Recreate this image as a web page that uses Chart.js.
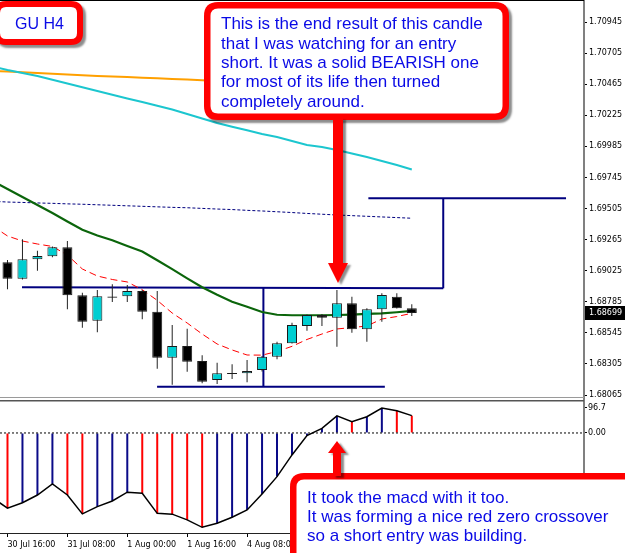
<!DOCTYPE html>
<html><head><meta charset="utf-8">
<script src="https://cdn.jsdelivr.net/npm/chart.js@4.4.1/dist/chart.umd.min.js"></script>
<style>html,body{margin:0;padding:0;background:#fff;overflow:hidden}canvas{display:block}</style>
</head><body>
<canvas id="c" width="625" height="553"></canvas>
<script>
// ---- candles (GBPUSD H4), bar index 0..27 ----
const barIndex = [0,1,2,3,4,5,6,7,8,9,10,11,12,13,14,15,16,17,18,19,20,21,22,23,24,25,26,27];
const opens  = [1.69090,1.68963,1.69113,1.69136,1.69206,1.68835,1.68639,1.68825,1.68827,1.68868,1.68708,1.68353,1.68444,1.68328,1.68181,1.68235,1.68233,1.68258,1.68361,1.68464,1.68598,1.68683,1.68662,1.68773,1.68572,1.68727,1.68824,1.68735];
const highs  = [1.69108,1.69267,1.69179,1.69212,1.69254,1.68855,1.68876,1.68920,1.68915,1.68876,1.68868,1.68606,1.68577,1.68372,1.68315,1.68302,1.68335,1.68366,1.68477,1.68623,1.68687,1.68691,1.68876,1.68824,1.68735,1.68850,1.68850,1.68766];
const lows   = [1.68881,1.68957,1.69025,1.69128,1.68727,1.68585,1.68549,1.68783,1.68783,1.68650,1.68268,1.68145,1.68245,1.68156,1.68150,1.68189,1.68163,1.68247,1.68341,1.68463,1.68562,1.68598,1.68438,1.68546,1.68477,1.68631,1.68733,1.68675];
const closes = [1.68963,1.69113,1.69138,1.69206,1.68835,1.68631,1.68827,1.68816,1.68868,1.68708,1.68353,1.68444,1.68322,1.68168,1.68233,1.68227,1.68251,1.68361,1.68464,1.68606,1.68683,1.68662,1.68773,1.68572,1.68727,1.68837,1.68735,1.68699];

// ---- indicator lines, index -1..27 ----
const lineIndex = [-1,0,1,2,3,4,5,6,7,8,9,10,11,12,13,14,15,16,17,18,19,20,21,22,23,24,25,26,27];
const maOrange = [1.70568,1.70563,1.70557,1.70551,1.70545,1.70539,1.70534,1.70529,1.70524,1.70520,1.70515,1.70510,1.70506,1.70501,1.70496,1.70490,1.70485,1.70480,1.70474,1.70469,1.70463,1.70458,1.70453,1.70447,1.70442,1.70436,1.70431,1.70426,1.70420];
const maCyan   = [1.70602,1.70575,1.70551,1.70528,1.70499,1.70470,1.70441,1.70412,1.70383,1.70355,1.70327,1.70298,1.70270,1.70235,1.70200,1.70165,1.70136,1.70109,1.70080,1.70057,1.70026,1.69995,1.69980,1.69957,1.69930,1.69903,1.69872,1.69841,1.69806];
const maDotted = [1.69561,1.69555,1.69552,1.69548,1.69545,1.69541,1.69538,1.69534,1.69530,1.69526,1.69522,1.69518,1.69514,1.69511,1.69506,1.69501,1.69497,1.69491,1.69486,1.69480,1.69474,1.69467,1.69461,1.69455,1.69450,1.69445,1.69440,1.69435,1.69430];
const maGreen  = [1.69718,1.69656,1.69594,1.69532,1.69470,1.69405,1.69341,1.69297,1.69260,1.69216,1.69173,1.69106,1.69037,1.68966,1.68897,1.68839,1.68785,1.68746,1.68706,1.68685,1.68681,1.68681,1.68681,1.68683,1.68686,1.68691,1.68695,1.68704,1.68714];
const maRed    = [1.69370,1.69293,1.69254,1.69231,1.69212,1.69146,1.69038,1.68984,1.68957,1.68938,1.68878,1.68796,1.68698,1.68621,1.68536,1.68459,1.68413,1.68374,1.68373,1.68401,1.68441,1.68494,1.68536,1.68575,1.68586,1.68598,1.68652,1.68671,1.68696];

// ---- MACD histogram, index -1..27 ----
const macdValues = [-251,-291,-270,-240,-197,-240,-313,-285,-263,-229,-233,-311,-314,-336,-365,-349,-326,-298,-236,-169,-85,-10,18,66,44,63,96.7,86,67];

// ---- drawn range objects ----
const rangeHighIdx = [0.97, 29.1];
const rangeHighPrice = [1.68897, 1.68889];
const rangeLowIdx = [9.99, 25.2];
const rangeLowPrice = 1.68129;
const rangeSplitIdx = 17.09;
const targetIdx = [24.1, 37.3];
const targetPrice = 1.69584;

// ---- axis ticks ----
const xTickIndex = [0,4,8,12,16,20,24];
const xTickLabels = ['30 Jul 16:00','31 Jul 08:00','1 Aug 00:00','1 Aug 16:00','4 Aug 08:00','5 Aug 00:00','5 Aug 16:00'];
const priceTicks = [1.70945,1.70705,1.70465,1.70225,1.69985,1.69745,1.69505,1.69265,1.69025,1.68785,1.68545,1.68305,1.68065];
const macdTicks = [96.7, 0];
const macdTickLabels = ['96.7','0.00'];

// ---- annotation texts ----
const titleText = 'GU H4';
const note1 = ['This is the end result of this candle','that I was watching for an entry','short. It was a solid BEARISH one','for most of its life then turned','completely around.'];
const note2 = ['It took the macd with it too.','It was forming a nice red zero crossover','so a short entry was building.'];

const CYAN = '#00CED1', NAVY = '#00007f', RED = '#ff0000';
const axisFont = {family:'"DejaVu Sans", Verdana, sans-serif', size:8};

const bodyColors = closes.map((c,i)=> c >= opens[i] ? CYAN : '#000000');
const macdColors = macdValues.map((v,i)=> (i === 0 || v >= macdValues[i-1]) ? '#0a0a88' : RED);

const lineDs = (vals, color, width, dash, order) => ({
  type:'line', yAxisID:'y', xAxisID:'x', order,
  data: lineIndex.map((x,i)=>({x, y: vals[i]})),
  borderColor: color, borderWidth: width, borderDash: dash || [],
  pointRadius: 0, tension: 0, fill: false
});
const segDs = (pts) => ({
  type:'line', yAxisID:'y', order: 5,
  data: pts, borderColor: NAVY, borderWidth: 2, pointRadius: 0, fill:false, tension:0
});

const datasets = [
  { type:'bar', yAxisID:'y', order:0, grouped:false, barThickness:10,
    data: barIndex.map((x,i)=>({x, y:[opens[i], closes[i]]})),
    backgroundColor: bodyColors, borderColor:'#1a1a1a', borderWidth:1, borderSkipped:false, inflateAmount:0 },
  { type:'bar', yAxisID:'y', order:1, grouped:false, barThickness:1,
    data: barIndex.map((x,i)=>({x, y:[lows[i], highs[i]]})),
    backgroundColor:'#222', borderWidth:0, inflateAmount:0 },
  lineDs(maGreen, '#0b650b', 2.2, null, 2),
  lineDs(maRed, RED, 1, [7,4], 2),
  lineDs(maCyan, '#1cc6cf', 2, null, 3),
  lineDs(maOrange, '#ffa000', 2, null, 3),
  lineDs(maDotted, NAVY, 1, [3,2], 3),
  segDs([{x:rangeHighIdx[0], y:rangeHighPrice[0]},{x:rangeHighIdx[1], y:rangeHighPrice[1]}]),
  segDs([{x:rangeSplitIdx, y:(rangeHighPrice[0]+rangeHighPrice[1])/2},{x:rangeSplitIdx, y:rangeLowPrice}]),
  segDs([{x:rangeLowIdx[0], y:rangeLowPrice},{x:rangeLowIdx[1], y:rangeLowPrice}]),
  segDs([{x:rangeHighIdx[1], y:rangeHighPrice[1]},{x:rangeHighIdx[1], y:targetPrice}]),
  segDs([{x:targetIdx[0], y:targetPrice},{x:targetIdx[1], y:targetPrice}]),
  // MACD
  { type:'line', yAxisID:'m', order:6, data:[{x:-0.5,y:0},{x:38.5,y:0}],
    borderColor:'#000', borderWidth:1, borderDash:[2,2], pointRadius:0 },
  { type:'bar', yAxisID:'m', order:7, grouped:false, barThickness:2,
    data: lineIndex.map((x,i)=>({x, y: macdValues[i]})),
    backgroundColor: macdColors, borderWidth:0, inflateAmount:0 },
  { type:'line', yAxisID:'m', order:4, data: lineIndex.map((x,i)=>({x, y: macdValues[i]})),
    borderColor:'#000', borderWidth:1.5, pointRadius:0, tension:0 }
];

function rr(ctx, x, y, w, h, r) {
  ctx.beginPath();
  ctx.moveTo(x+r, y); ctx.lineTo(x+w-r, y); ctx.quadraticCurveTo(x+w, y, x+w, y+r);
  ctx.lineTo(x+w, y+h-r); ctx.quadraticCurveTo(x+w, y+h, x+w-r, y+h);
  ctx.lineTo(x+r, y+h); ctx.quadraticCurveTo(x, y+h, x, y+h-r);
  ctx.lineTo(x, y+r); ctx.quadraticCurveTo(x, y, x+r, y); ctx.closePath();
}
function noteBox(ctx, x, y, w, h, r, bw) {
  ctx.save();
  ctx.shadowColor = 'rgba(0,0,0,0.45)'; ctx.shadowOffsetX = 3; ctx.shadowOffsetY = 3; ctx.shadowBlur = 2;
  ctx.fillStyle = RED; rr(ctx, x, y, w, h, r); ctx.fill();
  ctx.restore();
  ctx.fillStyle = '#fff'; rr(ctx, x+bw, y+bw, w-2*bw, h-2*bw, Math.max(r-bw, 3)); ctx.fill();
}
function arrow(ctx, pts) {
  ctx.save();
  ctx.shadowColor = 'rgba(0,0,0,0.45)'; ctx.shadowOffsetX = 3; ctx.shadowOffsetY = 2; ctx.shadowBlur = 2;
  ctx.fillStyle = RED; ctx.beginPath();
  pts.forEach((p,i)=> i ? ctx.lineTo(p[0],p[1]) : ctx.moveTo(p[0],p[1]));
  ctx.closePath(); ctx.fill(); ctx.restore();
}

const decor = {
  id:'decor',
  beforeDraw(chart) {
    const ctx = chart.ctx; ctx.save(); ctx.fillStyle = '#fff';
    ctx.fillRect(0, 0, chart.width, chart.height); ctx.restore();
  },
  afterDraw(chart) {
    const ctx = chart.ctx, ca = chart.chartArea, ys = chart.scales.y;
    ctx.save();
    // frame lines
    ctx.fillStyle = '#000'; ctx.fillRect(0, 0, ca.right, 1);
    ctx.fillStyle = '#9a9a9a'; ctx.fillRect(0, ys.bottom - 3, ca.right, 1);
    ctx.fillStyle = '#555'; ctx.fillRect(0, ys.bottom, ca.right, 1.5);
    // current price label
    const last = closes[closes.length-1];
    const py = Math.round(ys.getPixelForValue(last));
    ctx.fillStyle = '#000'; ctx.fillRect(585, py-7, 40, 14);
    ctx.fillStyle = '#fff'; ctx.font = '8px "DejaVu Sans", Verdana, sans-serif';
    ctx.textBaseline = 'middle'; ctx.textAlign = 'left';
    ctx.fillText(last.toFixed(5), 589, py);

    // annotations
    noteBox(ctx, -6, 1, 89, 44, 12, 6);
    noteBox(ctx, 204, 2, 305, 118, 14, 6.5);
    noteBox(ctx, 290, 473, 360, 100, 14, 6.5);
    arrow(ctx, [[333,118],[343,118],[343,263],[348,263],[338,283],[328,263],[333,263]]);
    arrow(ctx, [[337,441],[346,453],[341,453],[341,476],[333,476],[333,453],[328,453]]);

    ctx.fillStyle = '#0a0ae6'; ctx.textBaseline = 'alphabetic'; ctx.textAlign = 'left';
    ctx.font = '16px "Liberation Sans", Arial, sans-serif';
    ctx.fillText(titleText, 15, 28.5);
    ctx.font = '17px "Liberation Sans", Arial, sans-serif';
    note1.forEach((t,i)=> ctx.fillText(t, 221, 29.3 + i*19.3));
    note2.forEach((t,i)=> ctx.fillText(t, 307, 502.7 + i*19));
    ctx.restore();
  }
};

new Chart(document.getElementById('c'), {
  type:'bar',
  data:{ datasets },
  plugins:[decor],
  options:{
    responsive:false, animation:false, devicePixelRatio:1, events:[],
    layout:{ padding:0 },
    plugins:{ legend:{display:false}, tooltip:{enabled:false} },
    scales:{
      x:{ type:'linear', min:-0.5, max:38.5, position:'bottom', offset:false,
          afterBuildTicks:s=>{ s.ticks = xTickIndex.map(v=>({value:v})); },
          afterFit:s=>{ s.height = 20; s.paddingLeft = 0; s.paddingRight = 0; },
          ticks:{ align:'start', autoSkip:false, maxRotation:0, minRotation:0, padding:3,
                  font:axisFont, color:'#000', callback:(v,i)=> xTickLabels[i] },
          grid:{ offset:false, drawOnChartArea:false, drawTicks:true, tickLength:4, color:'#000' },
          border:{ color:'#222', width:1 } },
      y:{ type:'linear', position:'right', stack:'panes', stackWeight:400, bounds:'data',
          min:1.680266, max:1.71115,
          afterBuildTicks:s=>{ s.ticks = priceTicks.map(v=>({value:v})); },
          afterFit:s=>{ s.width = 41; s.paddingTop = 0; s.paddingBottom = 0; },
          ticks:{ autoSkip:false, padding:2, font:axisFont, color:'#000', callback:v=> Number(v).toFixed(5) },
          grid:{ drawOnChartArea:false, tickLength:3, color:'#000' },
          border:{ color:'#808080', width:2 } },
      m:{ type:'linear', position:'right', stack:'panes', stackWeight:133, bounds:'data',
          min:-387, max:127.6,
          afterBuildTicks:s=>{ s.ticks = macdTicks.map(v=>({value:v})); },
          afterFit:s=>{ s.width = 41; s.paddingTop = 0; s.paddingBottom = 0; },
          ticks:{ autoSkip:false, padding:1, font:axisFont, color:'#000', callback:(v,i)=> macdTickLabels[i] },
          grid:{ drawOnChartArea:false, tickLength:3, color:'#000' },
          border:{ color:'#808080', width:2 } }
    }
  }
});
</script>
</body></html>
